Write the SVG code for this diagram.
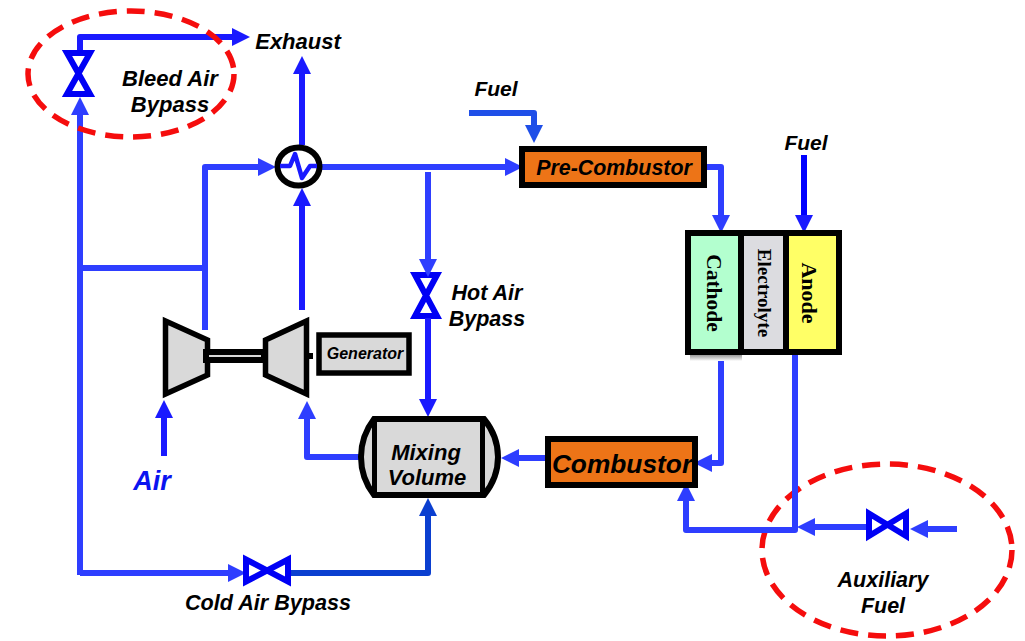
<svg xmlns="http://www.w3.org/2000/svg" width="1025" height="641" viewBox="0 0 1025 641">
<style>
.t{font-family:"Liberation Sans",Arial,sans-serif;font-weight:700;font-style:italic;fill:#000;text-anchor:middle}
.s{font-family:"Liberation Serif","Times New Roman",serif;font-weight:700;fill:#000;text-anchor:middle}
.c{fill:none;stroke-width:6;stroke-linejoin:round}
.a{stroke:#1a1aff;marker-end:url(#ma)}
.b{stroke:#2e3eff;marker-end:url(#mb)}
.n{stroke:#1a1aff}
.m{stroke:#2e3eff}
.k{stroke:#000;stroke-width:5.500;fill:#d9d9d9}
.v{fill:#fff;stroke:#0000f5;stroke-width:6;stroke-linejoin:miter}
.e{fill:none;stroke:#f50d0d;stroke-width:5.500;stroke-dasharray:18 10}
</style>
<defs>
<marker id="ma" markerUnits="userSpaceOnUse" markerWidth="18" markerHeight="18" refX="0" refY="9" orient="auto"><path d="M0 0L18 9L0 18Z" fill="#1a1aff"/></marker>
<marker id="mb" markerUnits="userSpaceOnUse" markerWidth="18" markerHeight="18" refX="0" refY="9" orient="auto"><path d="M0 0L18 9L0 18Z" fill="#2e3eff"/></marker>
<marker id="mc" markerUnits="userSpaceOnUse" markerWidth="18" markerHeight="18" refX="0" refY="9" orient="auto"><path d="M0 0L18 9L0 18Z" fill="#0b3fd0"/></marker>
<marker id="md" markerUnits="userSpaceOnUse" markerWidth="18" markerHeight="18" refX="0" refY="9" orient="auto"><path d="M0 0L18 9L0 18Z" fill="#1f4fe8"/></marker>
<linearGradient id="sh" x1="0" y1="0" x2="0" y2="1"><stop offset="0" stop-color="#999"/><stop offset="1" stop-color="#fff"/></linearGradient>
</defs>

<g id="hot-air-bypass">
<path class="v" d="M415 275H437L415 316H437Z"/>
<text class="t" font-size="21.500" x="487" y="300">Hot Air</text>
<text class="t" font-size="21.500" x="487" y="326">Bypass</text>
</g>

<g id="auxiliary-fuel">
<ellipse class="e" cx="887" cy="550" rx="125" ry="86"/>
<path class="v" d="M869 513.500V536L906 513.500V536Z"/>
<text class="t" font-size="21.500" x="883" y="587">Auxiliary</text>
<text class="t" font-size="21.500" x="883" y="613">Fuel</text>
</g>

<g id="connectors">
<path class="c n" d="M80 50V37H232" style="marker-end:url(#ma)"/>
<path class="c a" d="M302 145V74"/>
<path class="c a" d="M302 310V206"/>
<path class="c m" d="M80 575V115" style="marker-end:url(#mb)"/>
<path class="c m" d="M80 268H205"/>
<path class="c b" d="M205 330V167H258"/>
<path class="c b" d="M322 167H505"/>
<path class="c b" d="M428 172V259"/>
<path class="c a" d="M428 318V399"/>
<path class="c" stroke="#1f4fe8" style="marker-end:url(#md)" d="M469 113H534V125"/>
<path class="c b" d="M703 167H721V215"/>
<path class="c" stroke="#0000ff" style="marker-end:url(#ma)" d="M804 155V215"/>
<path class="c b" d="M721 352V463H712"/>
<path class="c b" d="M795 349V530H686V501"/>
<path class="c b" d="M866 527H815"/>
<path class="c b" d="M957 529H928"/>
<path class="c b" d="M549 458H519"/>
<path class="c b" d="M361 457H307V419"/>
<path class="c a" d="M164 456V418"/>
<path class="c b" d="M80 573H228"/>
<path class="c" stroke="#0b3fd0" style="marker-end:url(#mc)" d="M288 573H428V516"/>
</g>

<g id="bleed-air-bypass">
<ellipse class="e" cx="131" cy="74" rx="103" ry="63"/>
<path class="v" d="M67 53H90L67 94H90Z"/>
<text class="t" font-size="22" x="170" y="86">Bleed Air</text>
<text class="t" font-size="22" x="170" y="112">Bypass</text>
</g>

<g id="exhaust"><text class="t" font-size="22" x="298" y="49">Exhaust</text></g>

<g id="heat-exchanger">
<ellipse cx="298.500" cy="166.500" rx="21" ry="19" fill="#fff" stroke="#000" stroke-width="6"/>
<path d="M280 166H290L295 154L302 178L310 166H317" fill="none" stroke="#1a1aff" stroke-width="4.500" stroke-linejoin="round"/>
</g>

<g id="pre-combustor">
<rect x="522" y="149" width="182" height="36" fill="#ed7417" stroke="#000" stroke-width="6"/>
<text class="t" font-size="21.400" x="614" y="175">Pre-Combustor</text>
</g>
<g id="fuel-1"><text class="t" font-size="21" x="496" y="96">Fuel</text></g>
<g id="fuel-2"><text class="t" font-size="21" x="806" y="150">Fuel</text></g>

<g id="fuel-cell">
<rect x="690" y="355" width="52" height="6" fill="url(#sh)"/>
<rect x="688" y="233" width="54" height="119" fill="#b3ffcf" stroke="#000" stroke-width="6"/>
<rect x="741" y="233" width="45" height="119" fill="#dcdce0" stroke="#000" stroke-width="6"/>
<rect x="786" y="233" width="53" height="119" fill="#ffff66" stroke="#000" stroke-width="6"/>
<text class="s" font-size="21.500" transform="translate(707 293) rotate(90)">Cathode</text>
<text class="s" font-size="19" transform="translate(758 293) rotate(90)">Electrolyte</text>
<text class="s" font-size="22" transform="translate(802 293) rotate(90)">Anode</text>
</g>

<g id="compressor"><path class="k" d="M165.500 321L207.500 340V375L165.500 394Z"/></g>
<g id="turbine"><path class="k" d="M306.500 321L265.500 340V375L306.500 394Z"/></g>
<g id="shaft">
<rect x="206" y="352" width="58" height="8" fill="#d9d9d9" stroke="#000" stroke-width="6"/>
<rect x="305" y="353" width="8" height="6" fill="#000"/>
</g>

<g id="generator">
<rect x="319" y="335" width="90" height="38" class="k"/>
<text class="t" font-size="16" x="365" y="359">Generator</text>
</g>

<g id="air"><text x="152" y="490" font-family="Liberation Sans, Arial, sans-serif" font-weight="700" font-style="italic" font-size="27" fill="#0a14f0" text-anchor="middle">Air</text></g>

<g id="mixing-volume">
<path class="k" style="stroke-width:6" d="M374 419H484Q498 436 498 457Q498 478 484 495H374Q361 478 361 457Q361 436 374 419Z"/>
<path d="M374.500 419V495M482.500 419V495" stroke="#000" stroke-width="5" fill="none"/>
<text class="t" font-size="22" x="426" y="460">Mixing</text>
<text class="t" font-size="22" x="427" y="485">Volume</text>
</g>

<g id="combustor">
<rect x="548" y="439" width="147" height="46" fill="#ed7417" stroke="#000" stroke-width="6"/>
<text class="t" font-size="26.300" x="622" y="473">Combustor</text>
</g>

<g id="cold-air-bypass">
<path class="v" d="M246 559.500V581.500L288 559.500V581.500Z"/>
<text class="t" font-size="21.600" x="268" y="610">Cold Air Bypass</text>
</g>
</svg>
